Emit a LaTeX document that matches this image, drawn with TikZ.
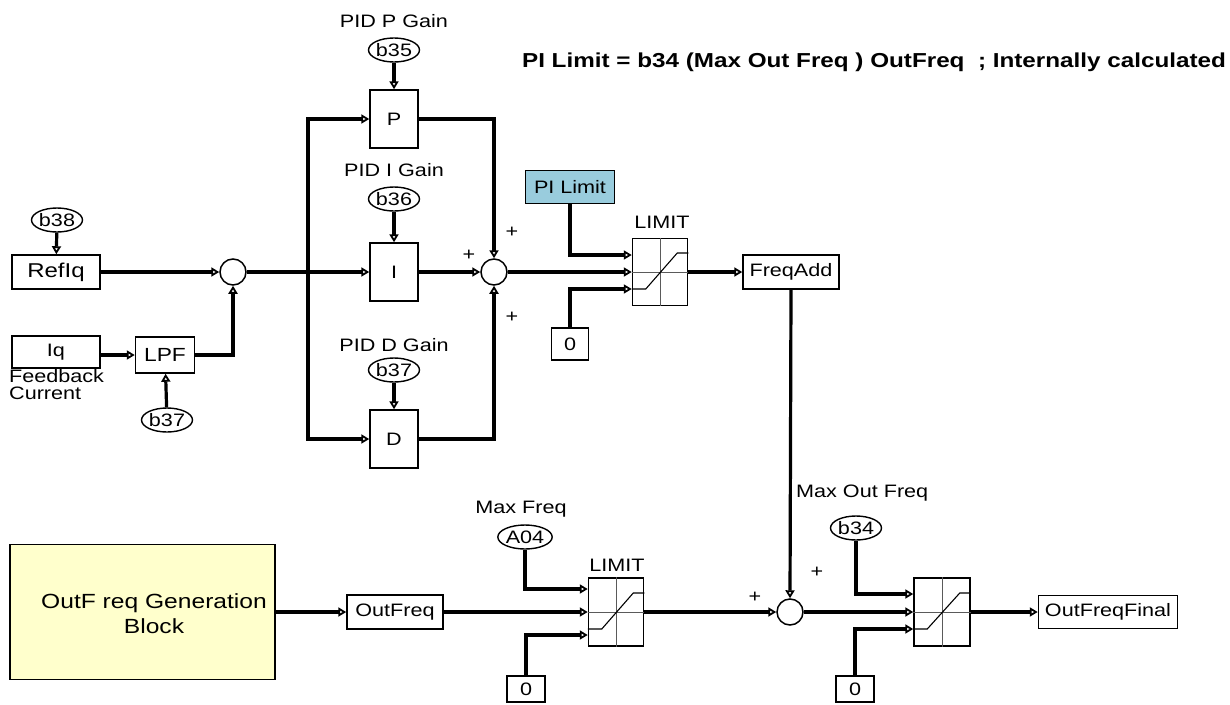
\documentclass[tikz,border=0pt]{standalone}
\usepackage{fontspec}
\setmainfont{Liberation Sans}[FakeStretch=1.2]
\usetikzlibrary{shapes.geometric,arrows.meta,calc}
\definecolor{piblue}{RGB}{153,204,221}
\definecolor{genyellow}{RGB}{255,255,204}
\definecolor{limgray}{RGB}{90,90,90}
\tikzset{
  txt/.style={font=\fontsize{18}{20}\selectfont, inner sep=0pt},
  blk/.style={draw, line width=1.5pt, fill=white, inner sep=0pt, font=\fontsize{18}{20}\selectfont},
  par/.style={ellipse, draw, line width=1.4pt, fill=white, inner sep=0pt, minimum width=42pt, minimum height=24pt, font=\fontsize{18}{20}\selectfont},
  sumc/.style={circle, draw, line width=1.5pt, fill=white, inner sep=0pt, minimum size=26pt},
  conn/.style={line width=3.2pt, -{Triangle[open, length=8pt, width=9pt, line width=1.8pt]}},
  wire/.style={line width=3.2pt},
  limbox/.style={draw, line width=1.5pt, fill=white, inner sep=0pt, minimum width=55pt, minimum height=68pt},
}
\newcommand\limitsat[1]{%
  \draw[line width=1pt, limgray] (#1.north) -- (#1.south);
  \draw[line width=1pt, limgray] (#1.west) -- (#1.east);
  \draw[line width=1.1pt] ($(#1.west)+(0,17)$) -- ($(#1.west)+(14,17)$) -- ($(#1.east)+(-11,-19)$) -- ($(#1.east)+(0,-19)$);
}
\begin{document}
\begin{tikzpicture}[x=1pt,y=-1pt]
\useasboundingbox (0,0) rectangle (1230,704);

% title
\node[txt, font=\fontsize{20.2}{22}\selectfont\bfseries] (title) at (874,62) {PI Limit = b34 (Max Out Freq ) OutFreq\ \ ; Internally calculated};

% left inputs
\node[par] (b38) at (57,220) {b38};
\node[blk, minimum width=88pt, minimum height=34pt, font=\fontsize{20}{22}\selectfont] (refiq) at (56,272) {RefIq};
\node[blk, minimum width=88pt, minimum height=32pt] (iq) at (56,352) {Iq};
\node[txt, anchor=north west, align=left, font=\fontsize{18}{17}\selectfont] (fbc) at (9,369) {Feedback\\Current};
\node[blk, minimum width=59pt, minimum height=36pt, font=\fontsize{19}{21}\selectfont] (lpf) at (165,355) {LPF};
\node[par] (b37l) at (167,420) {b37};
\node[sumc] (sum1) at (233,272) {};

% PID
\node[txt] (lp) at (394,21) {PID P Gain};
\node[par] (b35) at (394,50) {b35};
\node[blk, minimum width=48pt, minimum height=58pt] (P) at (394,119) {P};
\node[txt] (li) at (394,170) {PID I Gain};
\node[par] (b36) at (394,199) {b36};
\node[blk, minimum width=48pt, minimum height=58pt] (I) at (394,272) {I};
\node[txt] (ld) at (394,345) {PID D Gain};
\node[par] (b37u) at (394,370) {b37};
\node[blk, minimum width=48pt, minimum height=58pt] (D) at (394,439) {D};
\coordinate (J) at (308,272);
\node[sumc] (sum2) at (494,272) {};
\node[txt] (p1) at (512,232) {+};
\node[txt] (p2) at (469,255) {+};
\node[txt] (p3) at (512,317) {+};

% limit 1
\node[blk, fill=piblue, minimum width=89pt, minimum height=33pt] (pil) at (570,187) {PI Limit};
\node[blk, minimum width=37pt, minimum height=32pt] (z1) at (570,344) {0};
\node[limbox, minimum height=67pt] (lim1) at (660,272) {};
\limitsat{lim1}
\node[txt] (lim1l) at (662,222) {LIMIT};
\node[blk, minimum width=96pt, minimum height=34pt] (fa) at (791,272) {FreqAdd};

% bottom row
\node[blk, fill=genyellow, line width=1.2pt, minimum width=265pt, minimum height=135pt] (gen) at (142.5,612) {};
\node[txt, align=center, font=\fontsize{20.5}{25}\selectfont] (gent) at (154,614) {OutF req Generation\\Block};
\node[blk, minimum width=96pt, minimum height=34pt] (of) at (395,612) {OutFreq};
\node[txt] (mf) at (521,509) {Max Freq};
\node[par] (a04) at (525,537) {A04};
\node[limbox] (lim2) at (616,612) {};
\limitsat{lim2}
\node[txt] (lim2l) at (617,565) {LIMIT};
\node[blk, minimum width=38pt, minimum height=26pt] (z2) at (526,689) {0};
\node[sumc] (sum3) at (790,612) {};
\node[txt] (p4) at (755,597) {+};
\node[txt] (p5) at (817,572) {+};
\node[txt, anchor=west] (mof) at (796,493) {Max Out Freq};
\node[par] (b34) at (856,528) {b34};
\node[limbox, minimum width=56pt] (lim3) at (942,612) {};
\limitsat{lim3}
\node[blk, minimum width=38pt, minimum height=26pt] (z3) at (855,689) {0};
\node[blk, minimum width=139pt, minimum height=33pt] (off) at (1108,612) {OutFreqFinal};

% connectors left
\draw[conn] (b38) -- (refiq);
\draw[conn] (refiq) -- (sum1);
\draw[conn] (iq.east |- lpf) -- (lpf.west);
\draw[conn] (b37l) -- (lpf);
\draw[conn] (lpf.east) -| (sum1.south);
\draw[wire] (sum1.east) -- (J);
\draw[conn] (J) |- (P.west);
\draw[conn] (J) -- (I.west);
\draw[conn] (J) |- (D.west);
\draw[conn] (b35) -- (P);
\draw[conn] (b36) -- (I);
\draw[conn] (b37u) -- (D);
\draw[conn] (P.east) -| (sum2.north);
\draw[conn] (I.east) -- (sum2.west);
\draw[conn] (D.east) -| (sum2.south);
\draw[conn] (sum2.east) -- (lim1.west);
\draw[conn] (pil.south) |- ($(lim1.west)+(0,-17)$);
\draw[conn] (z1.north) |- ($(lim1.west)+(0,17)$);
\draw[conn] (lim1.east) -- (fa.west);
\draw[conn] (fa.south) -- (sum3.north);

% connectors bottom
\draw[conn] (gen.east) -- (of.west);
\draw[conn] (of.east) -- (lim2.west);
\draw[conn] (a04.south) |- ($(lim2.west)+(0,-23)$);
\draw[conn] (z2.north) |- ($(lim2.west)+(0,23)$);
\draw[conn] (lim2.east) -- (sum3.west);
\draw[conn] (sum3.east) -- (lim3.west);
\draw[conn] (b34.south) |- ($(lim3.west)+(0,-18)$);
\draw[conn] (z3.north) |- ($(lim3.west)+(0,17)$);
\draw[conn] (lim3.east) -- (off.west);
\end{tikzpicture}
\end{document}
